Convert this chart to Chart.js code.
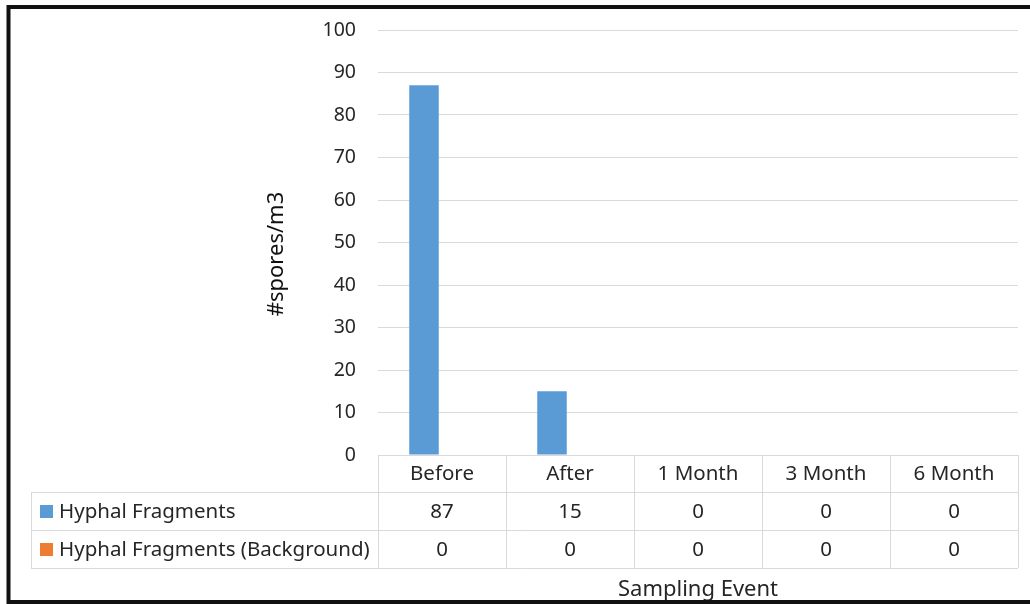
<!DOCTYPE html>
<html>
<head>
<meta charset="utf-8">
<script src="https://cdn.jsdelivr.net/npm/chart.js@4/dist/chart.umd.min.js"></script>
<style>
  body { margin: 0; background: #fff; }
  canvas { display: block; }
</style>
</head>
<body>
<canvas id="SporesChart" width="1030" height="604"></canvas>
<script>
var categories = ["Before", "After", "1 Month", "3 Month", "6 Month"];
var seriesNames = ["Hyphal Fragments", "Hyphal Fragments (Background)"];
var hyphal = [87, 15, 0, 0, 0];
var hyphalBackground = [0, 0, 0, 0, 0];
var seriesColors = ["#5b9bd5", "#ed7d31"];
var yMax = 100;
var yStep = 10;

var fontName = "'Noto Sans', 'Open Sans', sans-serif";
var textColor = "#262626";
var lineColor = "#d9d9d9";

// data table under the plot, drawn from the same arrays through the x scale
var tablePlugin = {
    id: "dataTable",
    afterDraw: function(chart) {
        var ctx = chart.ctx;
        var x = chart.scales.x;
        var area = chart.chartArea;
        var colW = x.width / categories.length;
        var rowH = 38;
        var top = area.bottom;
        var tableLeft = 31;
        var series = [hyphal, hyphalBackground];

        ctx.save();
        ctx.strokeStyle = lineColor;
        ctx.lineWidth = 1;
        ctx.beginPath();
        // horizontal lines
        for (var r = 1; r <= 3; r++) {
            var yy = Math.round(top + r * rowH - 1) + 0.5;
            ctx.moveTo(tableLeft, yy);
            ctx.lineTo(area.right, yy);
        }
        // vertical lines
        for (var c = 0; c <= categories.length; c++) {
            var xx = Math.round(area.left + c * colW) + 0.5;
            ctx.moveTo(xx, top);
            ctx.lineTo(xx, top + 3 * rowH - 1);
        }
        ctx.moveTo(tableLeft + 0.5, top + rowH - 1);
        ctx.lineTo(tableLeft + 0.5, top + 3 * rowH - 1);
        ctx.stroke();

        ctx.fillStyle = textColor;
        ctx.font = "20.5px " + fontName;
        ctx.textAlign = "center";
        ctx.textBaseline = "middle";
        categories.forEach(function(cat, i) {
            var cx = x.getPixelForValue(i);
            ctx.fillText(cat, cx, top + rowH / 2);
            series.forEach(function(s, k) {
                ctx.fillText(String(s[i]), cx, top + rowH * (k + 1.5));
            });
        });

        ctx.textAlign = "left";
        seriesNames.forEach(function(name, k) {
            var cy = top + rowH * (k + 1.5);
            ctx.fillStyle = seriesColors[k];
            ctx.fillRect(40, cy - 7, 13, 13);
            ctx.fillStyle = textColor;
            ctx.fillText(name, 59, cy);
        });

        ctx.textAlign = "center";
        ctx.font = "22px " + fontName;
        ctx.fillText("Sampling Event", (area.left + area.right) / 2, 590);

        // y axis title, rotated
        ctx.save();
        ctx.translate(277, 254);
        ctx.rotate(-Math.PI / 2);
        ctx.fillStyle = "#111111";
        ctx.font = "22px " + fontName;
        ctx.fillText("#spores/m3", 0, 0);
        ctx.restore();

        // outer frame
        ctx.strokeStyle = "#111111";
        ctx.lineWidth = 4;
        ctx.strokeRect(8.5, 7, 1040, 595);
        ctx.restore();
    }
};

var ctx = document.getElementById("SporesChart").getContext("2d");

var sporesChart = new Chart(ctx, {
    type: "bar",
    data: {
        labels: categories,
        datasets: [
            {
                label: seriesNames[0],
                backgroundColor: seriesColors[0],
                data: hyphal
            },
            {
                label: seriesNames[1],
                backgroundColor: seriesColors[1],
                data: hyphalBackground
            }
        ]
    },
    options: {
        responsive: false,
        animation: false,
        categoryPercentage: 0.5625,
        barPercentage: 0.82,
        layout: {
            padding: { top: 30, right: 12, bottom: 149, left: 262 }
        },
        plugins: {
            legend: { display: false },
            tooltip: { enabled: false },
            title: { display: false }
        },
        scales: {
            x: {
                display: false
            },
            y: {
                min: 0,
                max: yMax,
                afterFit: function(scale) {
                    scale.width = 116;
                },
                ticks: {
                    stepSize: yStep,
                    padding: 0,
                    color: textColor,
                    font: { family: fontName, size: 19.5 }
                },
                grid: {
                    color: lineColor,
                    drawTicks: true,
                    tickLength: 22,
                    tickColor: "rgba(0,0,0,0)"
                },
                border: { display: false }
            }
        }
    },
    plugins: [tablePlugin]
});
</script>
</body>
</html>
